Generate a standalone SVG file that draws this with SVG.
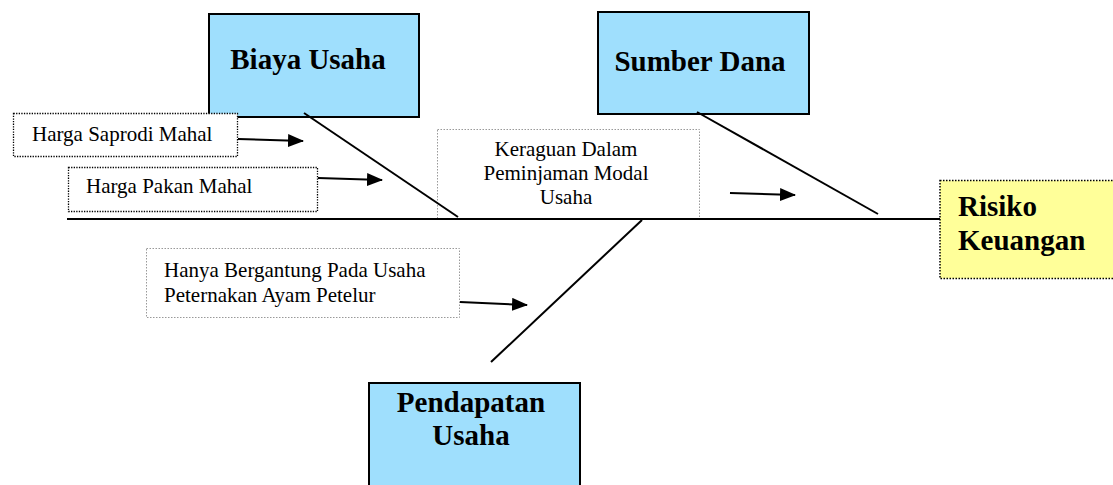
<svg xmlns="http://www.w3.org/2000/svg" width="1113" height="485" viewBox="0 0 1113 485">
<style>
.cat{fill:#9FDFFD;stroke:#000;stroke-width:2}
.head{fill:#FFFF99;stroke:#000;stroke-width:1.5;stroke-dasharray:1.5 1.5}
.bt{font-family:"Liberation Serif",serif;font-weight:bold;font-size:29px;fill:#000}
.t{font-family:"Liberation Serif",serif;font-size:21px;fill:#000}
.dk{fill:#fff;stroke:#000;stroke-width:1.3;stroke-dasharray:1.3 1.3}
.gy{fill:none;stroke:#999;stroke-width:1;stroke-dasharray:1.5 1.5}
.ln{stroke:#000;stroke-width:2;fill:none}
.ar{stroke:#000;stroke-width:2;fill:none;marker-end:url(#ah)}
</style>
<defs>
<marker id="ah" viewBox="0 0 16 13" refX="15" refY="6.5" markerWidth="16" markerHeight="13" markerUnits="userSpaceOnUse" orient="auto">
<path d="M0,0 L16,6.5 L0,13 Z" fill="#000"/>
</marker>
</defs>
<rect width="1113" height="485" fill="#fff"/>
<g id="keraguan">
<rect class="gy" x="437.5" y="129.5" width="262" height="90"/>
<text class="t" x="566" y="156" text-anchor="middle">Keraguan Dalam</text>
<text class="t" x="566" y="180" text-anchor="middle">Peminjaman Modal</text>
<text class="t" x="566" y="204" text-anchor="middle">Usaha</text>
</g>
<g id="hanya">
<rect class="gy" x="146.5" y="248.5" width="313" height="69"/>
<text class="t" x="164" y="277">Hanya Bergantung Pada Usaha</text>
<text class="t" x="164" y="302">Peternakan Ayam Petelur</text>
</g>
<g id="biaya">
<rect class="cat" x="209" y="14" width="210" height="103"/>
<text class="bt" x="308" y="69" text-anchor="middle">Biaya Usaha</text>
</g>
<g id="sumber">
<rect class="cat" x="598" y="12" width="211" height="102"/>
<text class="bt" x="700" y="71" text-anchor="middle">Sumber Dana</text>
</g>
<g id="pendapatan">
<rect class="cat" x="369" y="383" width="211" height="110"/>
<text class="bt" x="471" y="412" text-anchor="middle">Pendapatan</text>
<text class="bt" x="471" y="445" text-anchor="middle">Usaha</text>
</g>
<g id="risiko">
<rect class="head" x="940" y="180.5" width="180" height="98"/>
<text class="bt" x="958" y="216">Risiko</text>
<text class="bt" x="958" y="250">Keuangan</text>
</g>
<g id="saprodi">
<rect class="dk" x="13.5" y="113.5" width="224" height="43"/>
<text class="t" x="32" y="141">Harga Saprodi Mahal</text>
</g>
<g id="pakan">
<rect class="dk" x="68.5" y="167.5" width="249" height="44"/>
<text class="t" x="86" y="193">Harga Pakan Mahal</text>
</g>
<g id="connectors">
<line class="ln" x1="67" y1="219" x2="940" y2="219"/>
<line class="ln" x1="304" y1="113" x2="458" y2="217"/>
<line class="ln" x1="697" y1="112" x2="878" y2="214"/>
<line class="ln" x1="642" y1="220" x2="491" y2="362"/>
<line class="ar" x1="238" y1="139" x2="303" y2="141"/>
<line class="ar" x1="318" y1="178" x2="382" y2="180"/>
<line class="ar" x1="730" y1="193" x2="795" y2="195"/>
<line class="ar" x1="460" y1="302" x2="527" y2="305"/>
</g>
</svg>
